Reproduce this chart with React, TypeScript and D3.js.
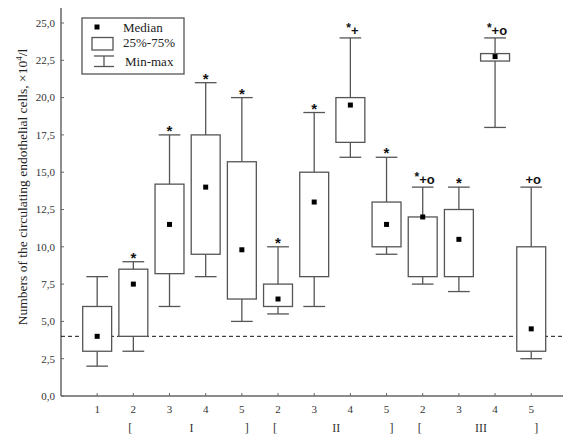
import React from "react";
import * as d3 from "d3";

const categories = ["1", "2", "3", "4", "5", "2", "3", "4", "5", "2", "3", "4", "5"];
const minVals = [2, 3, 6, 8, 5, 5.5, 6, 16, 9.5, 7.5, 7, 18, 2.5];
const q1Vals = [3, 4, 8.2, 9.5, 6.5, 6, 8, 17, 10, 8, 8, 22.45, 3];
const medianVals = [4, 7.5, 11.5, 14, 9.8, 6.5, 13, 19.5, 11.5, 12, 10.5, 22.75, 4.5];
const q3Vals = [6, 8.5, 14.2, 17.5, 15.7, 7.5, 15, 20, 13, 12, 12.5, 22.95, 10];
const maxVals = [8, 9, 17.5, 21, 20, 10, 19, 24, 16, 14, 14, 24, 14];
const starMarks = [false, true, true, true, true, true, true, true, true, true, true, true, false];
const extraMarks = ["", "", "", "", "", "", "", "+", "", "+o", "", "+o", "+o"];
const yTicks = [0, 2.5, 5, 7.5, 10, 12.5, 15, 17.5, 20, 22.5, 25];
const referenceLevel = 4;
const groups = ["I", "II", "III"];
const legendLabels = ["Median", "25%-75%", "Min-max"];
const yLabel = "Numbers of the circulating endothelial cells, ×10";

const W = 563;
const H = 435;
const serif = "'Liberation Serif', 'Times New Roman', serif";
const sans = "'Liberation Sans', Arial, sans-serif";

export default function App() {
  const x = d3.scaleLinear().domain([0, 14]).range([61, 567.4]);
  const y = d3.scaleLinear().domain([0, 25]).range([396, 23]);
  const fmt = (v: number) => d3.format(".1f")(v).replace(".", ",");
  const step = x(1) - x(0);
  const boxW = step * 0.8;
  const capW = step * 0.6;
  const axisColor = "#666";
  const lineColor = "#555";

  return (
    <svg width={W} height={H} style={{ position: "absolute", left: 0, top: 0, background: "#fff" }}>
      <rect x={0} y={0} width={W} height={H} fill="#fff" />
      {/* axes */}
      <line x1={x(0)} x2={W} y1={y(0)} y2={y(0)} stroke={axisColor} strokeWidth={1.5} />
      <line x1={x(0)} x2={x(0)} y1={y(0)} y2={8} stroke={axisColor} strokeWidth={1.5} />
      {yTicks.map((t) => (
        <g key={t}>
          <line x1={x(0)} x2={x(0) + 3} y1={y(t)} y2={y(t)} stroke={axisColor} strokeWidth={1} />
          <text x={55} y={y(t)} dy="0.35em" textAnchor="end" fontFamily={serif} fontSize={11} fill="#333">
            {fmt(t)}
          </text>
        </g>
      ))}
      {categories.map((c, i) => (
        <g key={"xt" + i}>
          <line x1={x(i + 1)} x2={x(i + 1)} y1={y(0)} y2={y(0) - 3} stroke={axisColor} strokeWidth={1} />
          <text x={x(i + 1)} y={413} textAnchor="middle" fontFamily={serif} fontSize={11} fill="#333">
            {c}
          </text>
        </g>
      ))}
      {/* group labels */}
      {groups.map((g, gi) => {
        const first = 2 + gi * 4;
        const last = first + 3;
        const mid = (x(first) + x(last)) / 2 + 4;
        return (
          <g key={g} fontFamily={serif} fontSize={12} fill="#333">
            <text x={x(first) - 3} y={432} textAnchor="middle">[</text>
            <text x={mid} y={432} textAnchor="middle">{g}</text>
            <text x={x(last) + 5} y={432} textAnchor="middle">]</text>
          </g>
        );
      })}
      {/* reference line */}
      <line x1={x(0)} x2={W} y1={y(referenceLevel)} y2={y(referenceLevel)} stroke="#111" strokeWidth={1} strokeDasharray="4,3" />
      {/* boxes */}
      {categories.map((c, i) => {
        const cx = x(i + 1);
        const hasExtra = extraMarks[i] !== "";
        return (
          <g key={"b" + i}>
            <line x1={cx} x2={cx} y1={y(maxVals[i])} y2={y(q3Vals[i])} stroke={lineColor} strokeWidth={1.3} />
            <line x1={cx} x2={cx} y1={y(q1Vals[i])} y2={y(minVals[i])} stroke={lineColor} strokeWidth={1.3} />
            <line x1={cx - capW / 2} x2={cx + capW / 2} y1={y(maxVals[i])} y2={y(maxVals[i])} stroke={lineColor} strokeWidth={1.3} />
            <line x1={cx - capW / 2} x2={cx + capW / 2} y1={y(minVals[i])} y2={y(minVals[i])} stroke={lineColor} strokeWidth={1.3} />
            <rect x={cx - boxW / 2} y={y(q3Vals[i])} width={boxW} height={y(q1Vals[i]) - y(q3Vals[i])} fill="#fff" stroke={lineColor} strokeWidth={1.3} />
            <rect x={cx - 2.5} y={y(medianVals[i]) - 2.5} width={5} height={5} fill="#000" />
            {(starMarks[i] || hasExtra) && (
              <text x={cx + (hasExtra ? 2 : 0)} y={y(maxVals[i]) + (hasExtra ? -3 : 1)} textAnchor="middle" fill="#111" fontFamily={sans} fontWeight="bold">
                {starMarks[i] && (
                  <tspan fontSize={hasExtra ? 12 : 15} dy={hasExtra ? -3 : 0}>
                    *
                  </tspan>
                )}
                {hasExtra && (
                  <tspan fontSize={13} dy={starMarks[i] ? 3 : 0}>
                    {extraMarks[i]}
                  </tspan>
                )}
              </text>
            )}
          </g>
        );
      })}
      {/* legend */}
      <g>
        <rect x={82} y={18} width={102} height={56} fill="#fff" stroke={lineColor} strokeWidth={1.3} />
        <rect x={94.5} y={24.5} width={5} height={5} fill="#000" />
        <rect x={92} y={37.5} width={21} height={12.5} fill="#fff" stroke={lineColor} strokeWidth={1.3} />
        <line x1={94} x2={114} y1={56} y2={56} stroke={lineColor} strokeWidth={1.3} />
        <line x1={104} x2={104} y1={56} y2={66.5} stroke={lineColor} strokeWidth={1.3} />
        <line x1={94} x2={114} y1={66.5} y2={66.5} stroke={lineColor} strokeWidth={1.3} />
        <text x={123} y={32} fontFamily={serif} fontSize={13} fill="#222">{legendLabels[0]}</text>
        <text x={123} y={47} fontFamily={serif} fontSize={13} fill="#222">{legendLabels[1]}</text>
        <text x={125} y={66} fontFamily={serif} fontSize={13} fill="#222">{legendLabels[2]}</text>
      </g>
      {/* y label */}
      <text transform={`translate(27, 187) rotate(-90)`} textAnchor="middle" fontFamily={serif} fontSize={13.5} fill="#222">
        {yLabel}
        <tspan fontSize={9} dy={-5}>4</tspan>
        <tspan dy={5}>/l</tspan>
      </text>
    </svg>
  );
}
